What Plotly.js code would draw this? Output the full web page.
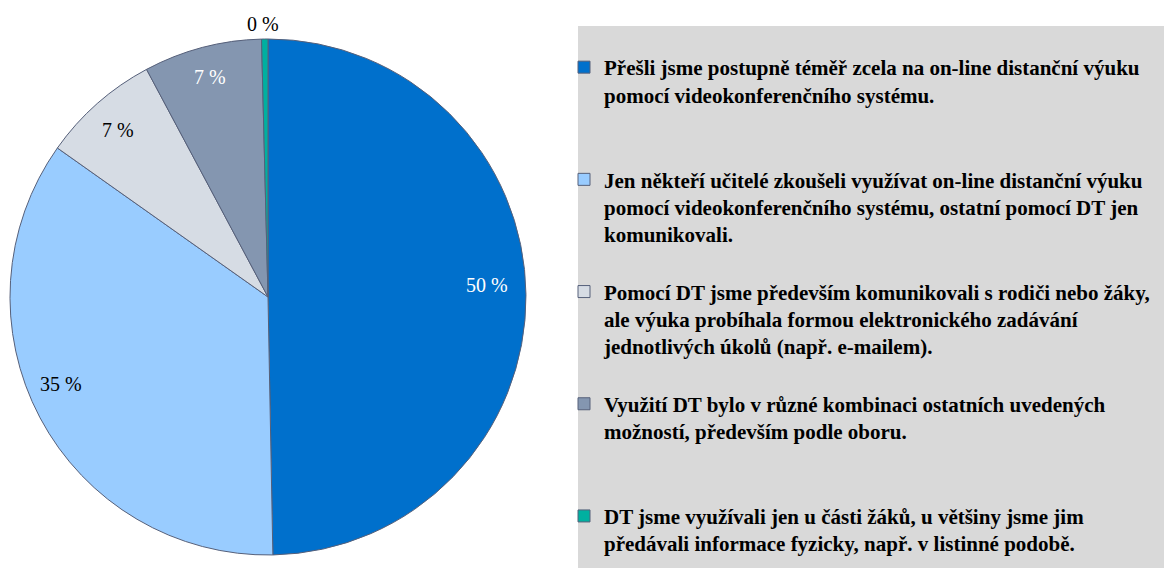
<!DOCTYPE html>
<html>
<head>
<meta charset="utf-8">
<script src="https://cdn.plot.ly/plotly-3.0.1.min.js"></script>
<style>html,body{margin:0;padding:0;background:#fff;}#chart{width:1164px;height:568px;}</style>
</head>
<body>
<div id="chart"></div>
<script>
const categories = [
  "Přešli jsme postupně téměř zcela na on-line distanční výuku<br>pomocí videokonferenčního systému.",
  "Jen někteří učitelé zkoušeli využívat on-line distanční výuku<br>pomocí videokonferenčního systému, ostatní pomocí DT jen<br>komunikovali.",
  "Pomocí DT jsme především komunikovali s rodiči nebo žáky,<br>ale výuka probíhala formou elektronického zadávání<br>jednotlivých úkolů (např. e-mailem).",
  "Využití DT bylo v různé kombinaci ostatních uvedených<br>možností, především podle oboru.",
  "DT jsme využívali jen u části žáků, u většiny jsme jim<br>předávali informace fyzicky, např. v listinné podobě."
];
const values = [49.7, 35.1, 7.4, 7.4, 0.4];
const sliceColors = ["#0070CC", "#99CCFF", "#D6DCE4", "#8496B0", "#00B0A0"];
const labelColors = ["#ffffff", "#000000", "#000000", "#ffffff", "#000000"];

// label placement (style): radius fraction and angular nudge (degrees) relative to slice mid-angle
const labelRadius = [0.85, 0.87, 0.87, 0.88, 1.06];
const labelNudge = [-2.6, 5, -0.7, 0, -0.3];

const FONT_SERIF = "'Liberation Serif', Tinos, 'Times New Roman', 'DejaVu Serif', serif";
const W = 1164, H = 568;
const cx = 268, cy = 297, r = 258;

// pad legend entries (except last) to 4 lines for spacing
const legendLabels = categories.map((c, i) => {
  const n = c.split("<br>").length;
  let s = c;
  if (i < categories.length - 1) for (let k = n; k < 4; k++) s += "<br>\u00a0";
  return s;
});

const total = values.reduce((a, b) => a + b, 0);
let cum = 0;
const annotations = values.map((v, i) => {
  const start = cum / total * 360;
  cum += v;
  const end = cum / total * 360;
  const a = ((start + end) / 2 + labelNudge[i]) * Math.PI / 180;
  const rr = labelRadius[i] * r;
  return {
    xref: "paper", yref: "paper",
    x: (cx + rr * Math.sin(a)) / W,
    y: 1 - (cy - rr * Math.cos(a)) / H,
    xanchor: "center", yanchor: "middle",
    text: Math.round(v / total * 100) + " %",
    showarrow: false,
    font: {family: FONT_SERIF, size: 20, color: labelColors[i]}
  };
});

const trace = {
  type: "pie",
  labels: legendLabels,
  values: values,
  textinfo: "none",
  sort: false,
  direction: "clockwise",
  rotation: 0,
  marker: {colors: sliceColors, line: {color: "#56607a", width: 1}},
  domain: {x: [(cx - r) / W, (cx + r) / W], y: [1 - (cy + r) / H, 1 - (cy - r) / H]},
  automargin: false,
  hoverinfo: "none"
};

const layout = {
  width: W, height: H,
  margin: {l: 0, r: 0, t: 0, b: 0},
  paper_bgcolor: "#ffffff",
  font: {family: FONT_SERIF},
  showlegend: true,
  legend: {
    x: 564 / W, y: 1 - 47 / H, xanchor: "left", yanchor: "top",
    bgcolor: "rgba(0,0,0,0)", valign: "top",
    font: {family: FONT_SERIF, size: 21, color: "#000000", weight: "bold"}
  },
  annotations: annotations,
  shapes: [{
    type: "rect", xref: "paper", yref: "paper", layer: "below",
    x0: 578 / W, x1: 1, y0: 0, y1: 1 - 26 / H,
    fillcolor: "#D9D9D9", line: {width: 0}
  }]
};

Plotly.newPlot("chart", [trace], layout, {displayModeBar: false, staticPlot: true});
</script>
</body>
</html>
